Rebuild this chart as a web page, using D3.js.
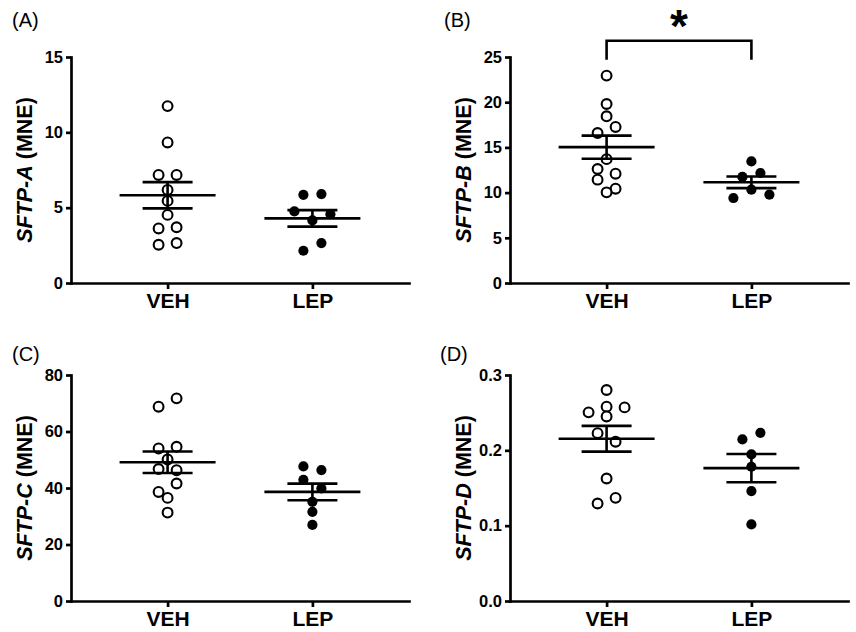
<!DOCTYPE html>
<html>
<head>
<meta charset="utf-8">
<title>SFTP expression - VEH vs LEP</title>
<script src="https://cdnjs.cloudflare.com/ajax/libs/d3/7.8.5/d3.min.js"></script>
<style>
  html, body { margin: 0; background: #fff; }
  svg { display: block; font-family: "Liberation Sans", Arial, sans-serif; }
  .axis path, .axis line { stroke: #000; stroke-width: 2.7; }
  .axis path { stroke-linecap: square; }
  .axis text { fill: #000; font-weight: bold; }
  .stat { stroke: #000; stroke-width: 2.6; fill: none; }
  .tag { font-size: 20px; }
</style>
</head>
<body>
<svg id="chart" width="856" height="632"></svg>
<script>
// groups on the x axis
var groups = ["VEH", "LEP"];

// values (MNE); order inside a row sets left -> right
var sftpA_veh = [11.74, 9.33, 7.17, 7.17, 6.18, 5.45, 4.52, 3.62, 3.70, 2.54, 2.65];
var sftpA_lep = [5.85, 5.90, 4.75, 4.15, 4.57, 2.14, 2.65];
var sftpB_veh = [22.94, 19.80, 18.44, 16.59, 17.26, 13.70, 12.61, 12.09, 11.43, 10.43, 10.03];
var sftpB_lep = [13.45, 11.73, 12.17, 9.40, 10.32, 9.77];
var sftpC_veh = [68.77, 71.73, 54.0, 54.6, 50.1, 46.7, 46.3, 38.6, 41.6, 36.5, 31.3];
var sftpC_lep = [47.64, 46.33, 42.89, 39.84, 35.09, 31.55, 26.94];
var sftpD_veh = [0.2801, 0.2504, 0.2579, 0.2570, 0.2450, 0.2228, 0.2114, 0.1626, 0.1294, 0.1369];
var sftpD_lep = [0.2145, 0.2233, 0.1946, 0.1782, 0.1459, 0.1016];

// tick labels
var ticksA = [0, 5, 10, 15];
var ticksB = [0, 5, 10, 15, 20, 25];
var ticksC = [0, 20, 40, 60, 80];
var ticksD = [0, 0.1, 0.2, 0.3];

// significance bracket in panel B (value units)
var sigTop = 26.8, sigFoot = 24.7, sigStar = 29.6;

var W = 338, H = 226;
var ROW_GAP = 9.3, DOT_STEP = 18;
var MEAN_HALF = 48, SEM_HALF = 25;

var panels = [
  {tag: "(A)", gene: "SFTP-A", veh: sftpA_veh, lep: sftpA_lep, ticks: ticksA, fmt: "d",   x0: 71,  y0: 57,  tx: 12,  ty: 27},
  {tag: "(B)", gene: "SFTP-B", veh: sftpB_veh, lep: sftpB_lep, ticks: ticksB, fmt: "d",   x0: 510, y0: 57,  tx: 444, ty: 27, sig: true},
  {tag: "(C)", gene: "SFTP-C", veh: sftpC_veh, lep: sftpC_lep, ticks: ticksC, fmt: "d",   x0: 71,  y0: 375, tx: 12,  ty: 361},
  {tag: "(D)", gene: "SFTP-D", veh: sftpD_veh, lep: sftpD_lep, ticks: ticksD, fmt: ".1f", x0: 510, y0: 375, tx: 440, ty: 361}
];

var svg = d3.select("#chart");

// prism-like rows: points close in height share a row, centred on the group
function swarm(values, y) {
  var order = d3.range(values.length).sort(function(a, b) { return values[b] - values[a] || a - b; });
  var rows = [], row = null;
  order.forEach(function(i) {
    var py = y(values[i]);
    if (!row || py - row.y0 > ROW_GAP) { row = {y0: py, idx: []}; rows.push(row); }
    row.idx.push(i);
  });
  var off = [];
  rows.forEach(function(r) {
    r.idx.sort(d3.ascending);
    r.idx.forEach(function(i, k) { off[i] = (k - (r.idx.length - 1) / 2) * DOT_STEP; });
  });
  return values.map(function(v, i) { return {v: v, dx: off[i]}; });
}

panels.forEach(function(p) {
  svg.append("text").attr("class", "tag").attr("x", p.tx).attr("y", p.ty).text(p.tag);

  var g = svg.append("g").attr("transform", "translate(" + p.x0 + "," + p.y0 + ")");
  var x = d3.scalePoint().domain(groups).range([0, W]).padding(0.667);
  var y = d3.scaleLinear().domain([0, d3.max(p.ticks)]).range([H, 0]);

  var sets = [{key: "VEH", vals: p.veh, open: true}, {key: "LEP", vals: p.lep, open: false}];

  sets.forEach(function(s) {
    var cx = x(s.key);
    g.append("g").selectAll("circle")
      .data(swarm(s.vals, y))
      .enter().append("circle")
      .attr("cx", function(d) { return cx + d.dx; })
      .attr("cy", function(d) { return y(d.v); })
      .attr("r", s.open ? 4.9 : 5.1)
      .attr("fill", s.open ? "#fff" : "#000")
      .attr("stroke", s.open ? "#000" : "none")
      .attr("stroke-width", 2.1);

    var m = d3.mean(s.vals);
    var sem = d3.deviation(s.vals) / Math.sqrt(s.vals.length);
    g.append("path").attr("class", "stat")
      .attr("d", "M" + (cx - MEAN_HALF) + "," + y(m) + "H" + (cx + MEAN_HALF));
    g.append("path").attr("class", "stat")
      .attr("d", "M" + (cx - SEM_HALF) + "," + y(m + sem) + "H" + (cx + SEM_HALF) +
                 "M" + (cx - SEM_HALF) + "," + y(m - sem) + "H" + (cx + SEM_HALF) +
                 "M" + cx + "," + y(m + sem) + "V" + y(m - sem));
  });

  var ya = g.append("g").attr("class", "axis")
    .call(d3.axisLeft(y).tickValues(p.ticks).tickFormat(d3.format(p.fmt)).tickSize(5).tickPadding(3).tickSizeOuter(0));
  ya.attr("font-family", null).attr("font-size", 16.5);

  var xa = g.append("g").attr("class", "axis").attr("transform", "translate(0," + H + ")")
    .call(d3.axisBottom(x).tickSize(6).tickPadding(4).tickSizeOuter(0));
  xa.attr("font-family", null).attr("font-size", 21);

  var lab = g.append("text")
    .attr("transform", "translate(-47," + (H / 2) + ") rotate(-90)")
    .attr("text-anchor", "middle").attr("dy", "0.35em")
    .style("font-size", "21.5px").style("font-weight", "bold");
  lab.append("tspan").style("font-style", "italic").text(p.gene);
  lab.append("tspan").text(" (MNE)");

  if (p.sig) {
    var a = x("VEH"), b = x("LEP");
    g.append("path").attr("class", "stat").attr("stroke-width", 3.2)
      .attr("d", "M" + a + "," + y(sigFoot) + "V" + y(sigTop) + "H" + b + "V" + y(sigFoot));
    g.append("text").attr("x", (a + b) / 2).attr("y", y(sigStar)).attr("dy", "0.57em")
      .attr("text-anchor", "middle").style("font-size", "46px").style("font-weight", "bold")
      .text("*");
  }
});
</script>
</body>
</html>
